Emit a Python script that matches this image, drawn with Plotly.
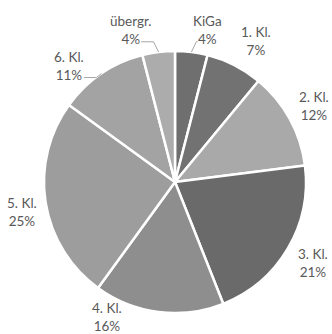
import math
import plotly.graph_objects as go

labels = ["KiGa", "1. Kl.", "2. Kl.", "3. Kl.", "4. Kl.", "5. Kl.", "6. Kl.", "übergr."]
values = [4, 7, 12, 21, 16, 25, 11, 4]
colors = ["#6f6f6f", "#727272", "#a9a9a9", "#6a6a6a", "#8e8e8e", "#9d9d9d", "#a3a3a3", "#acacac"]

# label layout (style): angular nudge (deg), distance factor, leader line flag
label_nudge = [5, 3, 0, 0, 19.5, -2, -8, -9]
label_dist = [1.19, 1.24, 1.21, 1.22, 1.15, 1.19, 1.20, 1.21]
leader = [True, False, False, False, False, False, True, True]

W, H = 332, 334
margin = dict(l=44, r=26, t=51, b=21)
pw = W - margin["l"] - margin["r"]
ph = H - margin["t"] - margin["b"]
pie_r = min(pw, ph) / 2

fig = go.Figure(go.Pie(
    labels=labels,
    values=values,
    sort=False,
    direction="clockwise",
    rotation=0,
    marker=dict(colors=colors, line=dict(color="white", width=2.5)),
    textinfo="none",
    showlegend=False,
    hoverinfo="label+percent",
))


def px2paper(x, y):
    return 0.5 + x / pw, 0.5 + y / ph


total = sum(values)
cum = 0
annotations = []
shapes = []
for lab, v, nud, dist, ld in zip(labels, values, label_nudge, label_dist, leader):
    mid = (cum + v / 2) / total * 360
    cum += v
    t = math.radians(mid + nud)
    m = math.radians(mid)
    lr = pie_r * dist
    lx = lr * math.sin(t)
    ly = lr * math.cos(t)
    pct = f"{round(v / total * 100)}%"
    txt = f"{lab}<br>{pct}"
    font = dict(family="Lato", size=13.5, color="#595959")
    ax_, ay_ = px2paper(lx, ly)
    annotations.append(dict(
        x=ax_, y=ay_, xref="paper", yref="paper",
        text=txt, showarrow=False, xanchor="center", yanchor="middle",
        font=font,
    ))
    if ld:
        ex = pie_r * math.sin(m)
        ey = pie_r * math.cos(m)
        s = 1 if ex > lx else -1
        half = len(pct) * 4.2 + 2
        y0 = ly - 12
        p0 = px2paper(lx + s * half, y0)
        p1 = px2paper(ex - s * 5, y0)
        p2 = px2paper(ex, ey)
        path = f"M {p0[0]},{p0[1]} L {p1[0]},{p1[1]} L {p2[0]},{p2[1]}"
        shapes.append(dict(type="path", xref="paper", yref="paper", path=path,
                           line=dict(color="#a6a6a6", width=1)))

fig.update_layout(
    width=W, height=H,
    margin=margin,
    paper_bgcolor="white",
    plot_bgcolor="white",
    annotations=annotations,
    shapes=shapes,
)

fig.write_html(
    "out.html",
    config={"displayModeBar": False},
    post_script="document.body.style.margin='0';document.documentElement.style.overflow='hidden';",
)
